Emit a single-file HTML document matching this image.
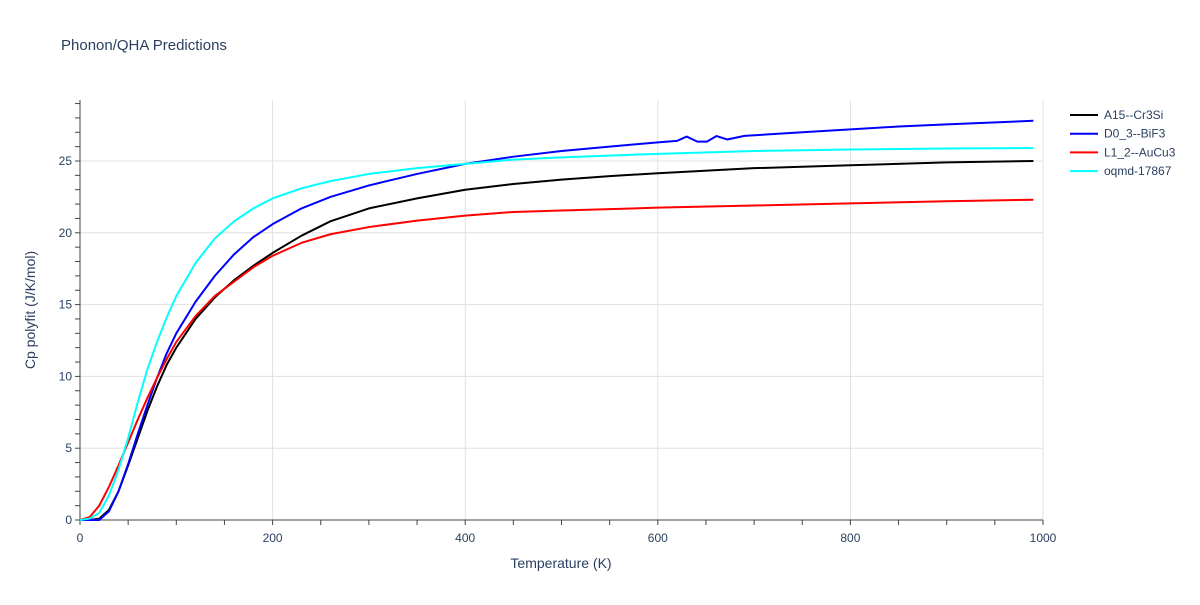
<!DOCTYPE html>
<html><head><meta charset="utf-8"><style>
body{margin:0;background:#fff;font-family:"Liberation Sans",sans-serif;}
svg text{font-family:"Liberation Sans",sans-serif;fill:#2a3f5f;}
</style></head><body>
<svg id="c" width="1200" height="600">
<text x="61" y="50" font-size="15">Phonon/QHA Predictions</text>
<g id="grid"></g><g id="axes"></g><g id="series"></g><g id="legend"></g>
<text x="561" y="568" font-size="14" text-anchor="middle">Temperature (K)</text>
<text transform="translate(35,310) rotate(-90)" font-size="14" text-anchor="middle">Cp polyfit (J/K/mol)</text>
</svg>
<script>
const names=["A15--Cr3Si","D0_3--BiF3","L1_2--AuCu3","oqmd-17867"];
const colors=["#000000","#0000ff","#ff0000","#00ffff"];
const blackT=[0,10,20,30,40,50,60,70,80,90,100,120,140,160,180,200,230,260,300,350,400,450,500,550,600,700,800,900,990];
const blackV=[0,0,0.1,0.7,2,3.8,5.7,7.6,9.3,10.8,12.0,14.0,15.5,16.7,17.7,18.6,19.8,20.8,21.7,22.4,23.0,23.4,23.7,23.95,24.15,24.5,24.7,24.9,25.0];
const blueT=[0,10,20,30,40,50,60,70,80,90,100,120,140,160,180,200,230,260,300,350,400,450,500,550,600,620,630,641,651,661,672,690,750,800,850,900,990];
const blueV=[0,0,0,0.6,2,3.9,6,8,9.9,11.6,13,15.2,17,18.5,19.7,20.6,21.7,22.5,23.3,24.1,24.8,25.3,25.7,26.0,26.3,26.4,26.7,26.35,26.35,26.74,26.5,26.75,27.0,27.2,27.4,27.55,27.8];
const redT=[0,10,20,30,40,50,60,70,80,90,100,120,140,160,180,200,230,260,300,350,400,450,500,600,700,800,900,990];
const redV=[0,0.2,1,2.3,3.8,5.4,7,8.5,9.9,11.2,12.4,14.2,15.6,16.6,17.6,18.4,19.3,19.9,20.4,20.85,21.2,21.45,21.55,21.75,21.9,22.05,22.2,22.3];
const cyanT=[0,10,20,30,40,50,60,70,80,90,100,120,140,160,180,200,230,260,300,350,400,450,500,600,700,800,900,990];
const cyanV=[0,0.1,0.5,1.7,3.5,5.7,8.2,10.5,12.4,14.1,15.6,17.9,19.6,20.8,21.7,22.4,23.1,23.6,24.1,24.5,24.8,25.1,25.25,25.5,25.7,25.8,25.87,25.9];
const xTicks=[0,200,400,600,800,1000];
const yTicks=[0,5,10,15,20,25];
const NS="http://www.w3.org/2000/svg";
const X0=80,X1=1043,Y0=520,Y25=161;
const xs=t=>X0+(X1-X0)*t/1000;
const ys=v=>Y0-(Y0-Y25)*v/25;
function mk(tag,attrs,parent){const e=document.createElementNS(NS,tag);for(const k in attrs)e.setAttribute(k,attrs[k]);document.getElementById(parent).appendChild(e);return e;}
xTicks.forEach(t=>{
 if(t>0){const g=mk('line',{x1:xs(t),x2:xs(t),y1:100,y2:Y0,stroke:'#e0e0e0'},'grid');
 
 }
 const l=mk('text',{x:xs(t),y:Y0+22,'font-size':12,'text-anchor':'middle'},'axes');l.textContent=t;
 
 
});
for(let t=0;t<=1000;t+=50){const m=mk('line',{x1:xs(t),x2:xs(t),y1:Y0,y2:Y0+5,stroke:'#444'},'axes');
 
 }
yTicks.forEach(v=>{
 if(v>0){const g=mk('line',{x1:X0,x2:X1,y1:ys(v),y2:ys(v),stroke:'#e0e0e0'},'grid');
 
 }
 const l=mk('text',{x:X0-8,y:ys(v)+4,'font-size':12,'text-anchor':'end'},'axes');l.textContent=v;
 
 
});
for(let v=0;v<=29;v++){const m=mk('line',{x1:X0-5,x2:X0,y1:ys(v),y2:ys(v),stroke:'#444'},'axes');
 
 }
const xa=mk('line',{x1:X0,x2:X1,y1:Y0,y2:Y0,stroke:'#444'},'axes');


const ya=mk('line',{x1:X0,x2:X0,y1:100,y2:Y0,stroke:'#444'},'axes');


const data=[[blackT,blackV],[blueT,blueV],[redT,redV],[cyanT,cyanV]];
data.forEach((d,i)=>{
 const p=mk('polyline',{points:d[0].map((t,j)=>xs(t)+','+ys(d[1][j])).join(' '),fill:'none',stroke:colors[i],'stroke-width':2,'stroke-linejoin':'round'},'series');
 
 
 const y=115+i*18.7;
 const g=mk('g',{},'legend');
 
 
 const ln=document.createElementNS(NS,'line');
 [['x1',1070],['x2',1098],['y1',y],['y2',y],['stroke',colors[i]],['stroke-width',2]].forEach(a=>ln.setAttribute(a[0],a[1]));
 g.appendChild(ln);
 const tx=document.createElementNS(NS,'text');
 tx.setAttribute('x',1104);tx.setAttribute('y',y+4);tx.setAttribute('font-size',12);tx.textContent=names[i];
 g.appendChild(tx);
});
</script>
</body></html>
